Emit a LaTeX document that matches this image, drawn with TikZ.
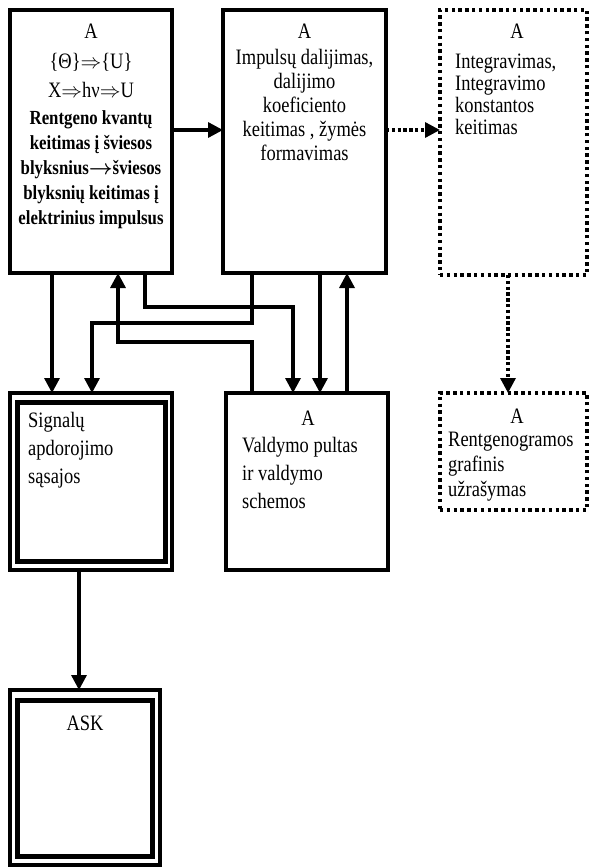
\documentclass[tikz,border=0pt]{standalone}
\usepackage{amsmath}
\usepackage{fontspec}
\setmainfont{Liberation Serif}[FakeStretch=0.84]
\usetikzlibrary{arrows.meta,calc}
\begin{document}
\begin{tikzpicture}[x=1pt,y=-1pt,
  box/.style={draw, line width=4pt, inner sep=0pt, outer sep=0pt, rectangle},
  dotbox/.style={box, line width=3.4pt, dash pattern=on 3.4pt off 3.4pt},
  arr/.style={line width=3.3pt, -{Triangle[length=15pt,width=15pt]}},
  dotarr/.style={arr, dash pattern=on 3.4pt off 2.4pt},
  txt/.style={inner sep=0pt, font=\fontsize{22}{25}\selectfont},
  bold/.style={inner sep=0pt, font=\fontsize{20}{25}\selectfont\bfseries}]
\useasboundingbox (0,0) rectangle (591,867);
% boxes
\node[box, minimum width=162pt, minimum height=263pt] (b1) at (91,141.5) {};
\node[box, minimum width=163pt, minimum height=263pt] (b2) at (304.5,141.5) {};
\node[dotbox, minimum width=147pt, minimum height=265pt] (b3) at (513.5,142.5) {};
\node[dotbox, minimum width=147pt, minimum height=117pt] (b4) at (513.5,451.5) {};
\node[box, line width=3.3pt, minimum width=162pt, minimum height=177pt] (sig) at (91,481.5) {};
\node[box, line width=5pt, minimum width=148pt, minimum height=159pt] (sigi) at (91.5,482) {};
\node[box, minimum width=162pt, minimum height=177pt] (val) at (307,481.5) {};
\node[box, line width=3.3pt, minimum width=150pt, minimum height=175pt] (ask) at (85,777.5) {};
\node[box, line width=5pt, minimum width=135pt, minimum height=156pt] (aski) at (85,778.5) {};
% texts
\node[txt, anchor=base] (t1a) at (91,38) {A};
\node[txt, anchor=base] (t1b) at (91,68) {\{Θ\}$\Rightarrow$\{U\}};
\node[txt, anchor=base] (t1c) at (91,97) {X$\Rightarrow$hν$\Rightarrow$U};
\node[bold, anchor=north, align=center] (t1d) at (91,110) {Rentgeno kvantų\\keitimas į šviesos\\blyksnius$\boldsymbol{\rightarrow}$šviesos\\blyksnių keitimas į\\elektrinius impulsus};
\node[txt, anchor=base] (t2a) at (304.5,38) {A};
\node[txt, anchor=north, align=center, font=\fontsize{22}{24}\selectfont] (t2b) at (304.5,49) {Impulsų dalijimas,\\dalijimo\\koeficiento\\keitimas , žymės\\formavimas};
\node[txt, anchor=base] (t3a) at (517,38) {A};
\node[txt, anchor=north west, align=left, font=\fontsize{22}{22}\selectfont] (t3b) at (455,54) {Integravimas,\\Integravimo\\konstantos\\keitimas};
\node[txt, anchor=base] (t4a) at (517,423) {A};
\node[txt, anchor=north west, align=left] (t4b) at (448,432) {Rentgenogramos\\grafinis\\užrašymas};
\node[txt, anchor=north west, align=left, font=\fontsize{22}{28}\selectfont] (tsig) at (28,412) {Signalų\\apdorojimo\\sąsajos};
\node[txt, anchor=base] (tva) at (308,425) {A};
\node[txt, anchor=north west, align=left, font=\fontsize{22}{28}\selectfont] (tvb) at (242,437) {Valdymo pultas\\ir valdymo\\schemos};
\node[txt, anchor=base] (task) at (85,730) {ASK};
% connectors
\draw[arr] ([yshift=11.5pt]b1.east) -- ([yshift=11.5pt]b1.east -| b2.west);
\draw[dotarr] ([yshift=11.5pt]b2.east) -- ([yshift=11.5pt]b2.east -| b3.west);
\draw[dotarr] ([xshift=-5.5pt]b3.south) -- ([xshift=-5.5pt]b4.north);
\draw[arr] ([xshift=-39pt]b1.south) -- ([xshift=-39pt]sig.north);
\draw[arr] ([xshift=-52.5pt]b2.south) -- ++(0,50) -| ([xshift=1pt]sig.north);
\draw[arr] ([xshift=-55pt]val.north) -- ++(0,-51) -| ([xshift=27pt]b1.south);
\draw[arr] ([xshift=54pt]b1.south) -- ++(0,34) -| ([xshift=-14pt]val.north);
\draw[arr] ([xshift=15.5pt]b2.south) -- ([xshift=15.5pt]b2.south |- val.north);
\draw[arr] ([xshift=40pt]val.north) -- ([xshift=40pt]val.north |- b2.south);
\draw[arr] ([xshift=-12pt]sig.south) -- ([xshift=-12pt]sig.south |- ask.north);
\end{tikzpicture}
\end{document}
